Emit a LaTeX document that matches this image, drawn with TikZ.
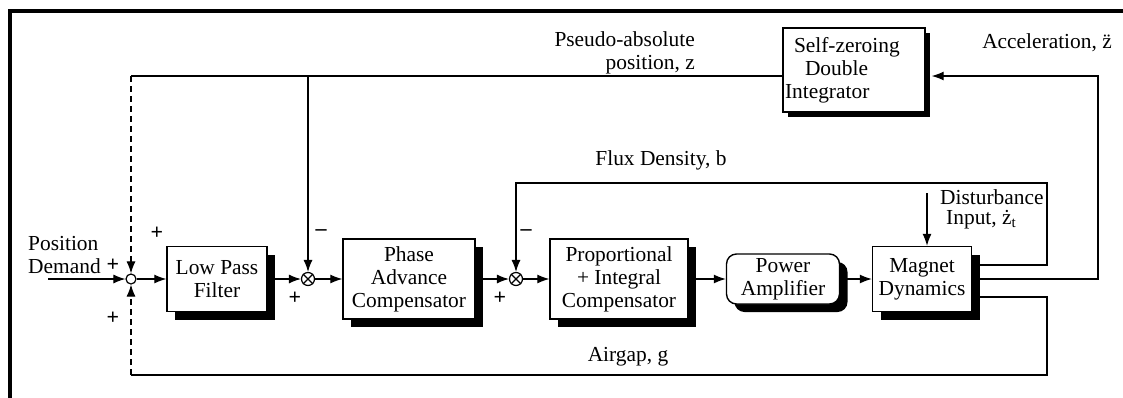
\documentclass[tikz,border=0pt]{standalone}
\usepackage{fontspec}
\setmainfont{Liberation Serif}
\usetikzlibrary{arrows.meta,shadows}

\begin{document}
\begin{tikzpicture}[x=0.5pt,y=-0.5pt,line width=0.55pt,
  every node/.style={font=\fontsize{10.7pt}{11.5pt}\selectfont},
  blk/.style={draw,line width=0.7pt,fill=white,align=center,inner sep=1pt,
    drop shadow={shadow xshift=#1,shadow yshift=-#1,fill=black,opacity=1}},
  blk/.default=4pt,
  sum/.style={circle,draw,line width=0.6pt,minimum size=6.5pt,inner sep=0pt},
  arr/.style={-{Latex[length=6pt,width=4.5pt]}},
  sig/.style={inner sep=0pt,font=\fontsize{11pt}{11pt}\selectfont\bfseries}]
  \useasboundingbox (0,0) rectangle (1123,397);
  % frame
  \draw[line width=1.6pt] (10,420) -- (10,11) -- (1140,11);

  % blocks
  \node[blk,minimum width=50pt,minimum height=32.5pt] (lpf) at (217,279) {Low Pass\\Filter};
  \node[blk,minimum width=66pt,minimum height=40pt] (pa) at (409,279) {Phase\\Advance\\Compensator};
  \node[blk,minimum width=69pt,minimum height=40pt] (pi) at (619,279) {Proportional\\+ Integral\\Compensator};
  \node[blk,rounded corners=5pt,minimum width=56.5pt,minimum height=25pt] (amp) at (783,279) {Power\\Amplifier};
  \node[blk,minimum width=49.5pt,minimum height=32.5pt] (mag) at (922,279) {Magnet\\Dynamics};
  \node[blk=2.5pt,align=left,text width=69pt,minimum height=42pt] (zint) at (854,70)
    {\hspace*{4.5pt}Self-zeroing\\\hspace*{10pt}Double\\Integrator};

  % summing junctions
  \node[sum,minimum size=5pt] (sum0) at (131,279) {};
  \node[sum] (sum1) at (308,279) {};
  \node[sum] (sum2) at (516,279) {};
  \foreach \s in {sum1,sum2}
    \draw (\s.north west) -- (\s.south east) (\s.north east) -- (\s.south west);

  % forward path
  \coordinate (in) at (48,279);
  \draw[arr] (in) -- (sum0);
  \draw[arr] (sum0) -- (lpf);
  \draw[arr] (lpf) -- (sum1);
  \draw[arr] (sum1) -- (pa);
  \draw[arr] (pa) -- (sum2);
  \draw[arr] (sum2) -- (pi);
  \draw[arr] (pi) -- (amp);
  \draw[arr] (amp) -- (mag);

  % position and acceleration loop
  \coordinate (tl) at (131,76);
  \coordinate (tr) at (1098,76);
  \draw ([yshift=-3pt]zint.west) -- (tl);
  \draw[arr,densely dashed] (tl) -- (sum0);
  \draw[arr] (sum1 |- tl) -- (sum1);
  \draw[arr] (mag.east) -- (mag.east -| tr) -- (tr) -- ([xshift=3pt,yshift=-3pt]zint.east);

  % flux loop
  \coordinate (fr) at (1047,183);
  \draw[arr] ([yshift=7pt]mag.east) -| (fr) -- (sum2 |- fr) -- (sum2);

  % airgap loop
  \coordinate (br) at (1047,375);
  \coordinate (bl) at (131,375);
  \draw ([yshift=-9pt]mag.east) -| (br) -- (bl);
  \draw[arr,densely dashed] (bl) -- (sum0);

  % disturbance
  \coordinate (dz) at (927,193);
  \draw[arr] (dz) -- (dz |- mag.north);

  % labels
  \node[align=left,anchor=west] (posdem) at (21,255) {Position\\Demand};
  \node[align=right,anchor=east] (pseudo) at (702,53) {Pseudo-absolute\\position, z};
  \node (accel) at (1047,43) {Acceleration, \"z};
  \node (flux) at (661,160) {Flux Density, b};
  \node (airgap) at (628,357) {Airgap, g};
  \node[align=left,anchor=west,font=\fontsize{10.7pt}{10pt}\selectfont] (dist) at (933,209)
    {Disturbance\\\hspace*{3pt}Input, \.z\textsubscript{t}};

  % signs
  \node[sig] (p0a) at (157,233) {+};
  \node[sig] (p0b) at (113,265) {+};
  \node[sig] (p0c) at (113,318) {+};
  \node[sig] (m1) at (321,233) {--};
  \node[sig] (p1) at (295,298) {+};
  \node[sig] (m2) at (526,233) {--};
  \node[sig] (p2) at (500,298) {+};
\end{tikzpicture}
\end{document}
